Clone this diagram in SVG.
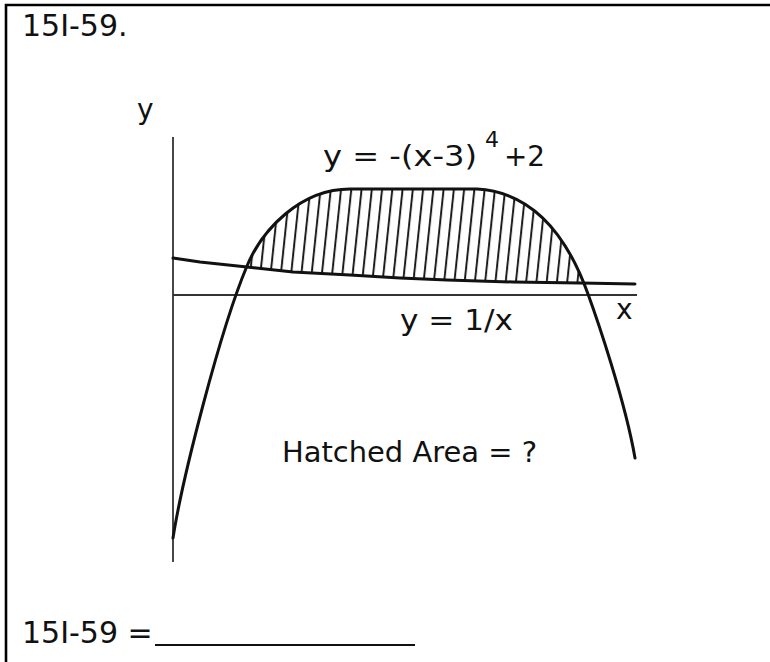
<svg xmlns="http://www.w3.org/2000/svg" width="770" height="662" viewBox="0 0 770 662">
<style>
text{font-family:"DejaVu Sans","Liberation Sans",sans-serif;fill:#111}
.curve{fill:none;stroke:#111;stroke-width:3;stroke-linejoin:round;stroke-linecap:round}
.axis{fill:none;stroke:#333;stroke-width:1.8}
</style>
<defs>
<pattern id="hatch" patternUnits="userSpaceOnUse" width="10.2" height="20" patternTransform="rotate(6)">
<line x1="2" y1="-2" x2="2" y2="22" stroke="#111" stroke-width="1.9"/>
</pattern>
<clipPath id="underQuartic">
<path d="M247,266 C262,230 300,189 350,189 H477 C530,192 565,230 588,294 L588,300 L247,300 Z"/>
</clipPath>
<clipPath id="aboveRecip">
<polygon points="173,258 200,262 247,267 293,272 350,275 400,278 447,280 513,282 580,283 635,284 635,150 173,150"/>
</clipPath>
</defs>
<rect width="770" height="662" fill="#fff"/>
<g id="frame">
<path d="M6,662 V5 H770" fill="none" stroke="#000" stroke-width="2.6"/>
</g>
<g id="title"><text x="22" y="36" font-size="30">15I-59.</text></g>
<g id="hatching" clip-path="url(#underQuartic)">
<rect x="240" y="180" width="350" height="110" fill="url(#hatch)" clip-path="url(#aboveRecip)"/>
</g>
<g id="axes">
<line class="axis" x1="173" y1="137" x2="173" y2="562"/>
<line class="axis" x1="173" y1="295" x2="637" y2="295"/>
<text x="137" y="119" font-size="28">y</text>
<text x="616" y="319" font-size="28">x</text>
</g>
<g id="connectors">
<polyline id="recip" class="curve" points="173,258 200,262 247,267 293,272 350,275 400,278 447,280 513,282 580,283 635,284"/>
<path id="quartic" class="curve" d="M173,538 C182,480 220,330 247,266 C262,230 300,189 350,189 H477 C530,192 565,230 588,294 C596,316 625,400 635,458"/>
</g>
<g id="labels">
<text x="323" y="166" font-size="28" textLength="154" lengthAdjust="spacingAndGlyphs">y = -(x-3)</text>
<text x="485" y="147" font-size="22">4</text>
<text x="504" y="166" font-size="28" textLength="41" lengthAdjust="spacingAndGlyphs">+2</text>
<text x="400" y="330" font-size="28" textLength="113" lengthAdjust="spacingAndGlyphs">y = 1/x</text>
<text x="282" y="462" font-size="29" textLength="255" lengthAdjust="spacingAndGlyphs">Hatched Area = ?</text>
</g>
<g id="answer">
<text x="22" y="643" font-size="30">15I-59 =</text>
<line x1="155" y1="645" x2="415" y2="645" stroke="#111" stroke-width="2"/>
</g>
</svg>
